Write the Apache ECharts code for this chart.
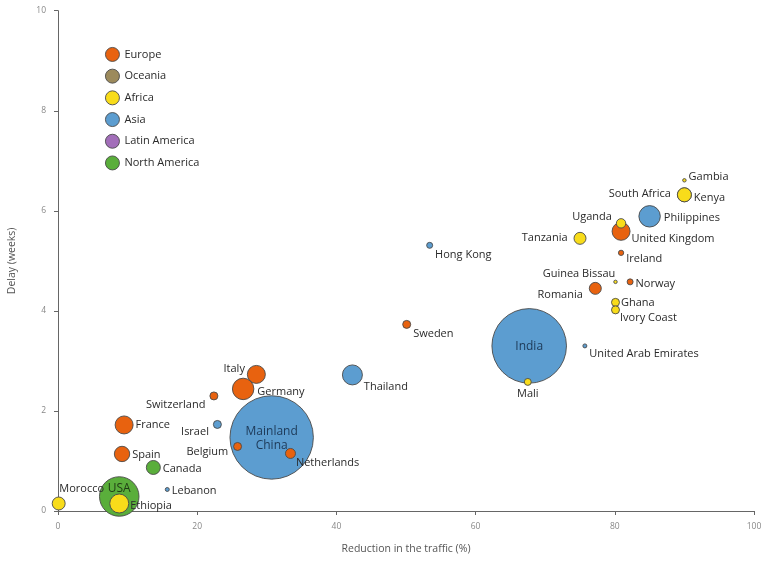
<!DOCTYPE html>
<html>
<head>
<meta charset="utf-8">
<script src="https://cdn.jsdelivr.net/npm/echarts@6/dist/echarts.min.js"></script>
<style>html,body{margin:0;padding:0;background:#fff}#c{width:764px;height:561px}</style>
</head>
<body>
<div id="c"></div>
<script>
// ---- data ----
const countries = ["Gambia","Kenya","South Africa","Philippines","Uganda","United Kingdom","Tanzania","Ireland","Hong Kong","Guinea Bissau","Norway","Romania","Ghana","Ivory Coast","Sweden","India","United Arab Emirates","Mali","Thailand","Italy","Germany","Switzerland","France","Israel","Mainland China","Belgium","Netherlands","Spain","Canada","Lebanon","USA","Morocco","Ethiopia"];
const regions = ["Africa","Africa","Africa","Asia","Africa","Europe","Africa","Europe","Asia","Africa","Europe","Europe","Africa","Africa","Europe","Asia","Asia","Africa","Asia","Europe","Europe","Europe","Europe","Asia","Asia","Europe","Europe","Europe","North America","Asia","North America","Africa","Africa"];
const reduction = [90.0,90.0,90.0,85.0,80.9,80.9,75.0,80.9,53.4,80.1,82.2,77.2,80.1,80.1,50.1,67.7,75.7,67.5,42.3,28.5,26.6,22.4,9.5,22.9,30.7,25.8,33.4,9.2,13.7,15.7,8.8,0.1,8.8];
const delay = [6.61,6.32,6.32,5.89,5.75,5.59,5.45,5.16,5.31,4.58,4.58,4.45,4.17,4.02,3.73,3.30,3.30,2.58,2.72,2.73,2.44,2.30,1.72,1.73,1.47,1.29,1.15,1.14,0.87,0.43,0.29,0.15,0.15];
const traffic = [3,49,49,115,22,81,36,7,9,3,9,36,16,16,16,1390,4,12,100,81,115,16,81,16,1740,16,25,59,49,4,390,42,90];
const legendOrder = ["Europe","Oceania","Africa","Asia","Latin America","North America"];
const drawOrder = ["North America","Asia","Europe","Africa","Oceania","Latin America"];
const xTicks = {min:0,max:100,interval:20};
const yTicks = {min:0,max:10,interval:2};

// ---- styles ----
const colors = {"Europe":"#E8620F","Oceania":"#9C8A5C","Africa":"#F8DC1A","Asia":"#5C9DD0","Latin America":"#A26EB9","North America":"#5AAE3B"};
const FONT = "'Open Sans', 'Noto Sans', sans-serif";
const labelPlace = {
  "Gambia":{position:"right",distance:2,offset:[0,-3]},
  "Kenya":{position:"right",distance:2,offset:[0,3]},
  "South Africa":{position:"left",distance:6,offset:[0,-1]},
  "Philippines":{position:"right",distance:3,offset:[0,2]},
  "Uganda":{position:"left",distance:4,offset:[0,-6]},
  "United Kingdom":{position:"right",distance:1,offset:[0,8]},
  "Tanzania":{position:"left",distance:6,offset:[0,0]},
  "Ireland":{position:"right",distance:2,offset:[0,6]},
  "Hong Kong":{position:"right",distance:2,offset:[0,10]},
  "Guinea Bissau":{position:"left",distance:-2,offset:[0,-8]},
  "Norway":{position:"right",distance:2,offset:[0,2]},
  "Romania":{position:"left",distance:6,offset:[0,6]},
  "Ghana":{position:"right",distance:1,offset:[0,0]},
  "Ivory Coast":{position:"right",distance:0,offset:[0,8]},
  "Sweden":{position:"right",distance:2,offset:[0,9]},
  "India":{position:"inside",offset:[0,1],color:"#1d3957",fontSize:12},
  "United Arab Emirates":{position:"right",distance:2,offset:[0,8]},
  "Mali":{position:"bottom",distance:3,offset:[0,0]},
  "Thailand":{position:"right",distance:1,offset:[0,12]},
  "Italy":{position:"left",distance:2,offset:[0,-6]},
  "Germany":{position:"right",distance:3,offset:[0,3]},
  "Switzerland":{position:"left",distance:4,offset:[0,9]},
  "France":{position:"right",distance:2,offset:[0,0]},
  "Israel":{position:"left",distance:4,offset:[0,7]},
  "Mainland China":{position:"inside",offset:[0,1],color:"#1d3957",fontSize:12,lineHeight:14,formatter:"Mainland\nChina"},
  "Belgium":{position:"left",distance:5,offset:[0,5]},
  "Netherlands":{position:"right",distance:0,offset:[0,9]},
  "Spain":{position:"right",distance:2,offset:[0,1]},
  "Canada":{position:"right",distance:2,offset:[0,1]},
  "Lebanon":{position:"right",distance:2,offset:[0,1]},
  "USA":{position:"inside",offset:[0,-8],color:"#1f3a14",fontSize:12},
  "Morocco":{position:"top",distance:2,offset:[23,0]},
  "Ethiopia":{position:"right",distance:1,offset:[0,2]}
};

function buildSeries(region){
  const idx = [];
  for (let i=0;i<countries.length;i++) if (regions[i]===region) idx.push(i);
  idx.sort((a,b)=>traffic[b]-traffic[a]);
  const data = idx.map(i=>{
    const lp = labelPlace[countries[i]] || {position:"right"};
    return {name:countries[i], value:[reduction[i],delay[i],traffic[i]], label:Object.assign({show:true}, lp)};
  });
  return {
    name:region, type:"scatter", data:data,
    symbol:"circle",
    symbolSize:function(v){return 2*Math.sqrt(v[2]);},
    itemStyle:{color:colors[region], borderColor:"#4a4a4a", borderWidth:0.9, opacity:1},
    label:{show:true, formatter:"{b}", color:"#2a2a2a", fontSize:11, fontFamily:FONT},
    emphasis:{disabled:true},
    animation:false
  };
}

const chart = echarts.init(document.getElementById("c"), null, {renderer:"canvas"});
chart.setOption({
  backgroundColor:"#fff",
  animation:false,
  textStyle:{fontFamily:FONT},
  legend:{
    data:legendOrder, orient:"vertical", left:105, top:47, padding:0,
    itemWidth:14, itemHeight:14, itemGap:6.8, icon:"circle",
    textStyle:{fontSize:11, color:"#2a2a2a", fontFamily:FONT},
    itemStyle:{borderColor:"#4a4a4a", borderWidth:0.9},
    selectedMode:false
  },
  grid:{left:58, right:10, top:10.7, bottom:50, outerBoundsMode:"none", containLabel:false},
  xAxis:{
    type:"value", min:xTicks.min, max:xTicks.max, interval:xTicks.interval,
    name:"Reduction in the traffic (%)", nameLocation:"middle", nameGap:33,
    nameTextStyle:{fontSize:10.5, color:"#555", fontFamily:FONT},
    axisLine:{show:true, lineStyle:{color:"#666", width:1}},
    axisTick:{show:true, length:4, inside:false, lineStyle:{color:"#666"}},
    axisLabel:{margin:11, fontSize:8.5, color:"#888", fontFamily:FONT},
    splitLine:{show:false}
  },
  yAxis:{
    type:"value", min:yTicks.min, max:yTicks.max, interval:yTicks.interval,
    name:"Delay (weeks)", nameLocation:"middle", nameGap:40,
    nameTextStyle:{fontSize:10.5, color:"#555", fontFamily:FONT},
    axisLine:{show:true, lineStyle:{color:"#666", width:1}},
    axisTick:{show:true, length:4, inside:false, lineStyle:{color:"#666"}},
    axisLabel:{margin:12, fontSize:8.5, color:"#888", fontFamily:FONT},
    splitLine:{show:false}
  },
  series: drawOrder.map(buildSeries)
});
</script>
</body>
</html>
